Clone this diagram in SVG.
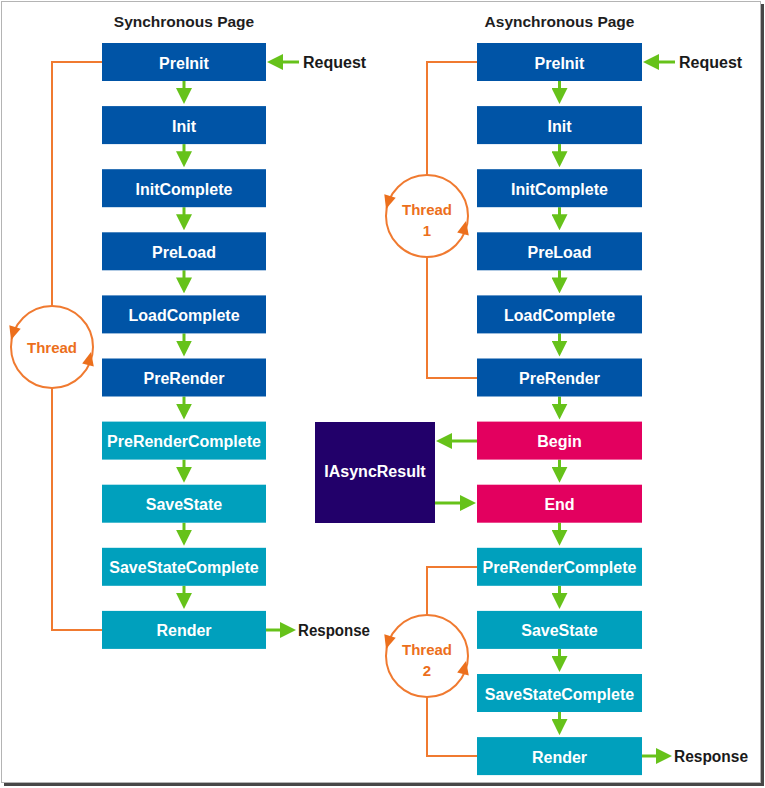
<svg xmlns="http://www.w3.org/2000/svg" width="765" height="788" viewBox="0 0 765 788">
<defs>
<style>
.box{stroke:none}
.b{fill:#0054a6}
.t{fill:#00a0bd}
.p{fill:#e3005f}
.u{fill:#22006a}
.lbl{font-family:"Liberation Sans",Arial,sans-serif;font-weight:bold;font-size:16px;fill:#ffffff;text-anchor:middle}
.ttl{font-family:"Liberation Sans",Arial,sans-serif;font-weight:bold;font-size:15.5px;fill:#1e1e1e;text-anchor:middle}
.ext{font-family:"Liberation Sans",Arial,sans-serif;font-weight:bold;font-size:16px;fill:#1a1a1a}
.thr{font-family:"Liberation Sans",Arial,sans-serif;font-weight:bold;font-size:15px;fill:#ec6f1c;text-anchor:middle}
.g{stroke:#66c21a;stroke-width:3;fill:none;marker-end:url(#ah)}
.o{stroke:#f07a30;stroke-width:2;fill:none}
.oh{fill:#ec6f1c}
</style>
<marker id="ah" markerUnits="userSpaceOnUse" markerWidth="16" markerHeight="16" viewBox="0 0 16 16" refX="8" refY="8" orient="auto">
<path d="M0,0 L16,8 L0,16 z" fill="#66c21a"/>
</marker>
</defs>
<rect x="0" y="0" width="765" height="788" fill="#ffffff"/>
<rect x="4" y="4" width="760" height="782" fill="#474747"/>
<rect x="1.5" y="1.5" width="759" height="781" fill="#ffffff" stroke="#b4b4b4" stroke-width="1"/>

<text class="ttl" x="184" y="27">Synchronous Page</text>
<text class="ttl" x="559.5" y="27">Asynchronous Page</text>

<g id="connectors">
<g id="sync-flow">
<path class="g" d="M184,81 V96"/>
<path class="g" d="M184,144.1 V159.2"/>
<path class="g" d="M184,207.2 V222.3"/>
<path class="g" d="M184,270.3 V285.4"/>
<path class="g" d="M184,333.4 V348.5"/>
<path class="g" d="M184,396.5 V411.6"/>
<path class="g" d="M184,459.6 V474.7"/>
<path class="g" d="M184,522.7 V537.8"/>
<path class="g" d="M184,585.8 V600.9"/>
<path class="g" d="M299,62 H275"/>
<path class="g" d="M266,630 H288"/>
</g>
<g id="async-flow">
<path class="g" d="M559.5,81 V96"/>
<path class="g" d="M559.5,144.1 V159.2"/>
<path class="g" d="M559.5,207.2 V222.3"/>
<path class="g" d="M559.5,270.3 V285.4"/>
<path class="g" d="M559.5,333.4 V348.5"/>
<path class="g" d="M559.5,396.5 V411.6"/>
<path class="g" d="M559.5,459.6 V474.7"/>
<path class="g" d="M559.5,522.7 V537.8"/>
<path class="g" d="M559.5,585.8 V600.9"/>
<path class="g" d="M559.5,648.9 V664"/>
<path class="g" d="M559.5,712 V727.1"/>
<path class="g" d="M675,62 H651"/>
<path class="g" d="M642,756 H664"/>
<path class="g" d="M477,441 H444"/>
<path class="g" d="M435,503 H468"/>
</g>
<g id="threads">
<path class="o" d="M102,62 H52 V306"/>
<path class="o" d="M52,388 V630 H102"/>
<circle class="o" cx="52" cy="347" r="41"/>
<polygon class="oh" points="11,340 20.7,328.8 9.3,325.2"/>
<polygon class="oh" points="91,352 93.8,366.4 82.2,363.6"/>

<path class="o" d="M477,62 H427 V175"/>
<path class="o" d="M427,257 V378 H477"/>
<circle class="o" cx="427" cy="216" r="41"/>
<polygon class="oh" points="386,209 395.7,197.8 384.3,194.2"/>
<polygon class="oh" points="466,221 468.8,235.4 457.2,232.6"/>

<path class="o" d="M477,567 H427 V615"/>
<path class="o" d="M427,697 V756 H477"/>
<circle class="o" cx="427" cy="656" r="41"/>
<polygon class="oh" points="386,649 395.7,637.8 384.3,634.2"/>
<polygon class="oh" points="466,661 468.8,675.4 457.2,672.6"/>
</g>
</g>

<g id="sync-preinit"><rect class="box b" x="102" y="43" width="164" height="38"/><text class="lbl" x="184" y="68.5">PreInit</text></g>
<g id="sync-init"><rect class="box b" x="102" y="106.1" width="164" height="38"/><text class="lbl" x="184" y="131.6">Init</text></g>
<g id="sync-initcomplete"><rect class="box b" x="102" y="169.2" width="164" height="38"/><text class="lbl" x="184" y="194.7">InitComplete</text></g>
<g id="sync-preload"><rect class="box b" x="102" y="232.3" width="164" height="38"/><text class="lbl" x="184" y="257.8">PreLoad</text></g>
<g id="sync-loadcomplete"><rect class="box b" x="102" y="295.4" width="164" height="38"/><text class="lbl" x="184" y="320.9">LoadComplete</text></g>
<g id="sync-prerender"><rect class="box b" x="102" y="358.5" width="164" height="38"/><text class="lbl" x="184" y="384">PreRender</text></g>
<g id="sync-prerendercomplete"><rect class="box t" x="102" y="421.6" width="164" height="38"/><text class="lbl" x="184" y="447.1">PreRenderComplete</text></g>
<g id="sync-savestate"><rect class="box t" x="102" y="484.7" width="164" height="38"/><text class="lbl" x="184" y="510.2">SaveState</text></g>
<g id="sync-savestatecomplete"><rect class="box t" x="102" y="547.8" width="164" height="38"/><text class="lbl" x="184" y="573.3">SaveStateComplete</text></g>
<g id="sync-render"><rect class="box t" x="102" y="610.9" width="164" height="38"/><text class="lbl" x="184" y="636.4">Render</text></g>

<g id="async-preinit"><rect class="box b" x="477" y="43" width="165" height="38"/><text class="lbl" x="559.5" y="68.5">PreInit</text></g>
<g id="async-init"><rect class="box b" x="477" y="106.1" width="165" height="38"/><text class="lbl" x="559.5" y="131.6">Init</text></g>
<g id="async-initcomplete"><rect class="box b" x="477" y="169.2" width="165" height="38"/><text class="lbl" x="559.5" y="194.7">InitComplete</text></g>
<g id="async-preload"><rect class="box b" x="477" y="232.3" width="165" height="38"/><text class="lbl" x="559.5" y="257.8">PreLoad</text></g>
<g id="async-loadcomplete"><rect class="box b" x="477" y="295.4" width="165" height="38"/><text class="lbl" x="559.5" y="320.9">LoadComplete</text></g>
<g id="async-prerender"><rect class="box b" x="477" y="358.5" width="165" height="38"/><text class="lbl" x="559.5" y="384">PreRender</text></g>
<g id="async-begin"><rect class="box p" x="477" y="421.6" width="165" height="38"/><text class="lbl" x="559.5" y="447.1">Begin</text></g>
<g id="async-end"><rect class="box p" x="477" y="484.7" width="165" height="38"/><text class="lbl" x="559.5" y="510.2">End</text></g>
<g id="async-prerendercomplete"><rect class="box t" x="477" y="547.8" width="165" height="38"/><text class="lbl" x="559.5" y="573.3">PreRenderComplete</text></g>
<g id="async-savestate"><rect class="box t" x="477" y="610.9" width="165" height="38"/><text class="lbl" x="559.5" y="636.4">SaveState</text></g>
<g id="async-savestatecomplete"><rect class="box t" x="477" y="674" width="165" height="38"/><text class="lbl" x="559.5" y="699.5">SaveStateComplete</text></g>
<g id="async-render"><rect class="box t" x="477" y="737.1" width="165" height="38"/><text class="lbl" x="559.5" y="762.6">Render</text></g>

<g id="iasyncresult"><rect class="box u" x="315" y="422" width="120" height="101"/><text class="lbl" x="375" y="477">IAsyncResult</text></g>

<g id="sync-request"><text class="ext" x="303" y="68">Request</text></g>
<g id="sync-response"><text class="ext" x="298" y="636" textLength="72" lengthAdjust="spacingAndGlyphs">Response</text></g>
<g id="async-request"><text class="ext" x="679" y="68">Request</text></g>
<g id="async-response"><text class="ext" x="674" y="762" textLength="74" lengthAdjust="spacingAndGlyphs">Response</text></g>

<g id="thread"><text class="thr" x="52" y="353">Thread</text></g>
<g id="thread1"><text class="thr" x="427" y="215">Thread</text><text class="thr" x="427" y="236">1</text></g>
<g id="thread2"><text class="thr" x="427" y="655">Thread</text><text class="thr" x="427" y="676">2</text></g>
</svg>
